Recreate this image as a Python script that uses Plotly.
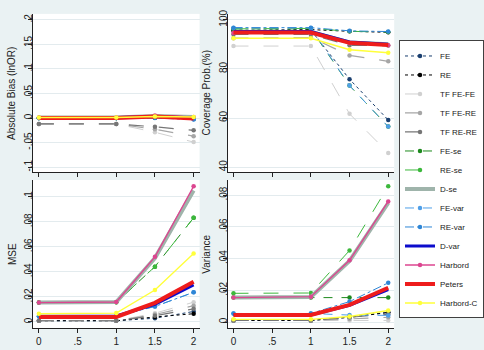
import plotly.graph_objects as go
from plotly.subplots import make_subplots

# ---------------- data ----------------
x_vals = [0, 1, 1.5, 2]
series_names = ["FE", "RE", "TF FE-FE", "TF FE-RE", "TF RE-RE", "FE-se", "RE-se",
                "D-se", "FE-var", "RE-var", "D-var", "Harbord", "Peters", "Harbord-C"]

bias = {
    "FE":        [0.000, 0.000, 0.001, -0.002],
    "RE":        [0.000, 0.000, 0.001, -0.001],
    "TF FE-FE":  [-0.012, -0.012, -0.029, -0.049],
    "TF FE-RE":  [-0.012, -0.012, -0.023, -0.037],
    "TF RE-RE":  [-0.012, -0.012, -0.018, -0.025],
    "FE-se":     [0.000, 0.000, 0.001, -0.001],
    "RE-se":     [0.000, 0.000, 0.001, 0.000],
    "D-se":      [0.001, 0.001, 0.004, 0.002],
    "FE-var":    [0.000, 0.000, 0.001, -0.002],
    "RE-var":    [0.000, 0.000, 0.000, -0.003],
    "D-var":     [0.001, 0.001, 0.003, 0.000],
    "Harbord":   [0.001, 0.001, 0.005, 0.002],
    "Peters":    [0.000, 0.000, 0.003, -0.001],
    "Harbord-C": [0.001, 0.001, 0.003, 0.002],
}

coverage = {
    "FE":        [95.8, 95.8, 75.8, 59.2],
    "RE":        [95.5, 96.0, 95.3, 94.9],
    "TF FE-FE":  [89.3, 89.3, 61.7, 45.8],
    "TF FE-RE":  [92.5, 92.8, 85.5, 83.1],
    "TF RE-RE":  [94.0, 94.0, 89.6, 89.5],
    "FE-se":     [96.3, 96.3, 73.2, 56.5],
    "RE-se":     [96.3, 96.5, 95.3, 95.0],
    "D-se":      [95.0, 95.0, 90.8, 90.0],
    "FE-var":    [96.7, 96.7, 73.2, 56.5],
    "RE-var":    [96.8, 96.8, 95.5, 95.2],
    "D-var":     [95.2, 95.2, 91.0, 90.0],
    "Harbord":   [94.6, 94.6, 90.5, 89.6],
    "Peters":    [94.8, 94.8, 90.6, 89.7],
    "Harbord-C": [92.5, 92.5, 87.8, 86.6],
}

mse = {
    "FE":        [0.001, 0.001, 0.003, 0.0084],
    "RE":        [0.001, 0.001, 0.004, 0.0066],
    "TF FE-FE":  [0.001, 0.001, 0.007, 0.0158],
    "TF FE-RE":  [0.001, 0.001, 0.006, 0.0130],
    "TF RE-RE":  [0.001, 0.001, 0.005, 0.0105],
    "FE-se":     [0.0155, 0.0157, 0.0442, 0.0832],
    "RE-se":     [0.0155, 0.0157, 0.0442, 0.0832],
    "D-se":      [0.0155, 0.0160, 0.0510, 0.1050],
    "FE-var":    [0.0045, 0.0047, 0.0124, 0.0237],
    "RE-var":    [0.0045, 0.0047, 0.0124, 0.0237],
    "D-var":     [0.0045, 0.0048, 0.0140, 0.0297],
    "Harbord":   [0.0155, 0.0160, 0.0520, 0.1084],
    "Peters":    [0.0039, 0.0040, 0.0153, 0.0321],
    "Harbord-C": [0.0066, 0.0071, 0.0255, 0.0547],
}

variance = {
    "FE":        [0.001, 0.001, 0.0031, 0.0062],
    "RE":        [0.001, 0.001, 0.0030, 0.0060],
    "TF FE-FE":  [0.001, 0.001, 0.0010, 0.0010],
    "TF FE-RE":  [0.001, 0.001, 0.0020, 0.0030],
    "TF RE-RE":  [0.001, 0.001, 0.0030, 0.0050],
    "FE-se":     [0.0154, 0.0154, 0.0154, 0.0154],
    "RE-se":     [0.0181, 0.0183, 0.0451, 0.0856],
    "D-se":      [0.0154, 0.0158, 0.0385, 0.0750],
    "FE-var":    [0.0054, 0.0054, 0.0044, 0.0042],
    "RE-var":    [0.0054, 0.0054, 0.0129, 0.0247],
    "D-var":     [0.0045, 0.0045, 0.0105, 0.0204],
    "Harbord":   [0.0154, 0.0160, 0.0389, 0.0760],
    "Peters":    [0.0044, 0.0045, 0.0108, 0.0216],
    "Harbord-C": [0.0017, 0.0017, 0.0035, 0.0073],
}

x_ticks = [0, 0.5, 1, 1.5, 2]
x_ticktext = ["0", ".5", "1", "1.5", "2"]
bias_ticks = [-0.1, -0.05, 0, 0.05, 0.1, 0.15, 0.2]
bias_ticktext = ["-.1", "-.05", "0", ".05", ".1", ".15", ".2"]
cov_ticks = [40, 60, 80, 100]
cov_ticktext = ["40", "60", "80", "100"]
mse_ticks = [0, 0.02, 0.04, 0.06, 0.08, 0.1]
mse_ticktext = ["0", ".02", ".04", ".06", ".08", ".1"]
var_ticks = [0, 0.02, 0.04, 0.06, 0.08]
var_ticktext = ["0", ".02", ".04", ".06", ".08"]
panel_titles = ["Absolute Bias (lnOR)", "Coverage Prob.(%)", "MSE", "Variance"]

# ---------------- styles ----------------
styles = {
    "FE":        dict(color="#1a3f6f", dash="dot", width=1.0, marker=True),
    "RE":        dict(color="#000000", dash="dot", width=1.0, marker=True),
    "TF FE-FE":  dict(color="#d0d0d0", dash="longdash", width=1.0, marker=True),
    "TF FE-RE":  dict(color="#a6a6a6", dash="longdash", width=1.2, marker=True),
    "TF RE-RE":  dict(color="#767676", dash="longdash", width=1.2, marker=True),
    "FE-se":     dict(color="#1e8a1e", dash="dash", width=1.0, marker=True),
    "RE-se":     dict(color="#3cb83c", dash="longdash", width=1.0, marker=True),
    "D-se":      dict(color="#9fb4ab", dash="solid", width=4.0, marker=False),
    "FE-var":    dict(color="#4f9fe8", dash="dash", width=1.0, marker=True),
    "RE-var":    dict(color="#2f86d6", dash="dashdot", width=1.0, marker=True),
    "D-var":     dict(color="#0c0ccc", dash="solid", width=3.0, marker=False),
    "Harbord":   dict(color="#dc4690", dash="solid", width=1.4, marker=True),
    "Peters":    dict(color="#ee1c1c", dash="solid", width=4.0, marker=False),
    "Harbord-C": dict(color="#ffff3a", dash="solid", width=1.4, marker=True),
}

FONT = "Liberation Sans, Arial, sans-serif"

fig = make_subplots(rows=2, cols=2)

panels = [(bias, 1, 1), (coverage, 1, 2), (mse, 2, 1), (variance, 2, 2)]
for pi, (data, r, c) in enumerate(panels):
    for name in series_names:
        st = styles[name]
        fig.add_trace(go.Scatter(
            x=x_vals, y=data[name], name=name,
            mode="lines+markers" if st["marker"] else "lines",
            line=dict(color=st["color"], dash=st["dash"], width=st["width"]),
            marker=dict(color=st["color"], size=4.5),
            legendgroup=name, showlegend=(pi == 0),
        ), row=r, col=c)

W, H = 484, 350
left_px = [33, 200]
right_px = [228, 395]
top_px = [10, 170]
bot_px = [178, 328]
left_dom = [left_px[0] / W, left_px[1] / W]
right_dom = [right_px[0] / W, right_px[1] / W]
top_dom = [1 - top_px[1] / H, 1 - top_px[0] / H]
bot_dom = [1 - bot_px[1] / H, 1 - bot_px[0] / H]

common_x = dict(range=[-0.077, 2.077], tickvals=x_ticks, ticktext=x_ticktext,
                showline=True, linecolor="#222222", linewidth=1, ticks="outside",
                ticklen=4, tickcolor="#222222", showgrid=False, zeroline=False,
                tickfont=dict(size=10, color="#222222", family=FONT))
common_y = dict(showline=True, linecolor="#222222", linewidth=1, ticks="outside",
                ticklen=4, tickcolor="#222222", showgrid=True, gridcolor="#e3ebee",
                gridwidth=1, zeroline=False, tickangle=-90, ticklabelstandoff=-8,
                tickfont=dict(size=10, color="#222222", family=FONT))

fig.update_layout(
    xaxis=dict(domain=left_dom, anchor="y", showticklabels=False, **common_x),
    xaxis2=dict(domain=right_dom, anchor="y2", showticklabels=False, **common_x),
    xaxis3=dict(domain=left_dom, anchor="y3", **common_x),
    xaxis4=dict(domain=right_dom, anchor="y4", **common_x),
    yaxis=dict(domain=top_dom, anchor="x", range=[-0.110, 0.212],
               tickvals=bias_ticks, ticktext=bias_ticktext, **common_y),
    yaxis2=dict(domain=top_dom, anchor="x2", range=[38, 102.4],
                tickvals=cov_ticks, ticktext=cov_ticktext, **common_y),
    yaxis3=dict(domain=bot_dom, anchor="x3", range=[-0.005, 0.1134],
                tickvals=mse_ticks, ticktext=mse_ticktext, **common_y),
    yaxis4=dict(domain=bot_dom, anchor="x4", range=[-0.0039, 0.0895],
                tickvals=var_ticks, ticktext=var_ticktext, **common_y),
    width=W, height=H,
    margin=dict(l=0, r=0, t=0, b=0),
    paper_bgcolor="#eaf2f3",
    plot_bgcolor="#ffffff",
    font=dict(family=FONT, size=10, color="#222222"),
    legend=dict(x=400 / W, xanchor="left", y=1 - 177.5 / H, yanchor="middle",
                bgcolor="#ffffff", bordercolor="#404040", borderwidth=1,
                font=dict(size=8, family=FONT, color="#222222"),
                itemwidth=30, tracegroupgap=0),
)

# axis titles as rotated annotations
title_pos = [(left_dom, top_dom), (right_dom, top_dom), (left_dom, bot_dom), (right_dom, bot_dom)]
for text, (xd, yd) in zip(panel_titles, title_pos):
    fig.add_annotation(text=text, xref="paper", yref="paper",
                       x=xd[0] - 21 / W, y=(yd[0] + yd[1]) / 2,
                       textangle=-90, showarrow=False,
                       xanchor="center", yanchor="middle",
                       font=dict(size=10, family=FONT, color="#222222"))

fig.write_html("out.html")
